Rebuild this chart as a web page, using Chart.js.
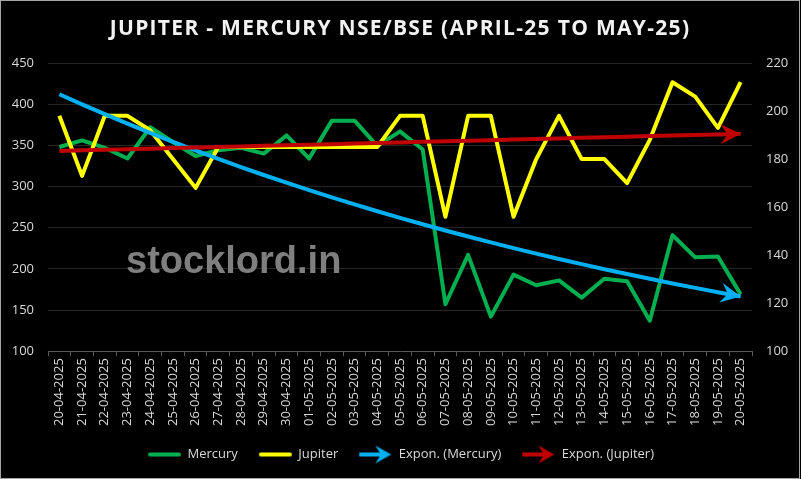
<!DOCTYPE html>
<html>
<head>
<meta charset="utf-8">
<script src="https://cdn.jsdelivr.net/npm/chart.js"></script>
<style>
  html, body { margin: 0; padding: 0; background: #ffffff; }
  #wrap { width: 801px; height: 481px; }
</style>
</head>
<body>
<div id="wrap"><canvas id="chart" width="801" height="481"></canvas></div>
<script>
const dates = ['20-04-2025', '21-04-2025', '22-04-2025', '23-04-2025', '24-04-2025', '25-04-2025',
    '26-04-2025', '27-04-2025', '28-04-2025', '29-04-2025', '30-04-2025', '01-05-2025', '02-05-2025',
    '03-05-2025', '04-05-2025', '05-05-2025', '06-05-2025', '07-05-2025', '08-05-2025', '09-05-2025',
    '10-05-2025', '11-05-2025', '12-05-2025', '13-05-2025', '14-05-2025', '15-05-2025', '16-05-2025',
    '17-05-2025', '18-05-2025', '19-05-2025', '20-05-2025'];

// Mercury on left axis, Jupiter on right axis
const mercury = [348, 356, 347, 334, 372, 354, 337, 344, 347, 340, 362, 334, 380, 380, 349, 367,
    345, 157, 217, 142, 193, 180, 186, 165, 188, 185, 137, 241, 214, 215, 169];
const jupiter = [198, 173, 198, 198, 192, 180, 168, 185, 185, 185, 185, 185, 185, 185, 185, 198,
    198, 156, 198, 198, 156, 180, 198, 180, 180, 170, 188, 212, 206, 193, 212];

const leftTicks = [100, 150, 200, 250, 300, 350, 400, 450];
const rightTicks = [100, 120, 140, 160, 180, 200, 220];

const TITLE = 'JUPITER - MERCURY NSE/BSE (APRIL-25 TO MAY-25)';
const GREEN = '#00b050', YELLOW = '#ffff00', BLUE = '#00b0f0', RED = '#c00000';
const TEXT = '#d9d9d9';

// exponential trendline, same as excel (least squares on ln y)
function expTrend(vals) {
    const n = vals.length;
    let sx = 0, sy = 0, sxx = 0, sxy = 0;
    vals.forEach((v, i) => {
        const x = i + 1, y = Math.log(v);
        sx += x; sy += y; sxx += x * x; sxy += x * y;
    });
    const b = (n * sxy - sx * sy) / (n * sxx - sx * sx);
    const a = (sy - b * sx) / n;
    return vals.map((v, i) => Math.exp(a + b * (i + 1)));
}

function lineIcon(color) {
    const c = document.createElement('canvas');
    c.width = 34; c.height = 10;
    const g = c.getContext('2d');
    g.strokeStyle = color; g.lineWidth = 4; g.lineCap = 'round';
    g.beginPath(); g.moveTo(3, 5); g.lineTo(32, 5); g.stroke();
    return c;
}

function drawHead(g, x, y, ang, color, len, half) {
    g.save();
    g.translate(x, y);
    g.rotate(ang);
    g.fillStyle = color;
    g.beginPath();
    g.moveTo(0, 0);
    g.lineTo(-len, -half);
    g.lineTo(-len * 0.65, 0);
    g.lineTo(-len, half);
    g.closePath();
    g.fill();
    g.restore();
}

function arrowIcon(color) {
    const c = document.createElement('canvas');
    c.width = 34; c.height = 20;
    const g = c.getContext('2d');
    g.strokeStyle = color; g.lineWidth = 4;
    g.beginPath(); g.moveTo(1, 10); g.lineTo(24, 10); g.stroke();
    drawHead(g, 33, 10, 0, color, 16, 9);
    return c;
}

const arrowHeads = {
    id: 'arrowHeads',
    afterDatasetsDraw(chart) {
        const g = chart.ctx;
        chart.data.datasets.forEach((ds, i) => {
            if (!ds.arrow) return;
            const pts = chart.getDatasetMeta(i).data;
            const p1 = pts[pts.length - 2], p2 = pts[pts.length - 1];
            const ang = Math.atan2(p2.y - p1.y, p2.x - p1.x);
            drawHead(g, p2.x, p2.y, ang, ds.borderColor, 20, 10);
        });
    }
};

const frame = {
    id: 'frame',
    beforeDraw(chart) {
        const g = chart.ctx;
        g.save();
        g.fillStyle = '#000000';
        g.fillRect(0, 0, 801, 479);
        g.strokeStyle = '#a6a6a6';
        g.lineWidth = 1;
        g.strokeRect(0.5, 0.5, 799, 478);
        // title, drawn by hand for the letter spacing
        g.font = 'bold 21px "Open Sans"';
        g.letterSpacing = '1.3px';
        g.fillStyle = '#f2f2f2';
        g.textAlign = 'center';
        g.textBaseline = 'middle';
        g.fillText(TITLE, 400, 29);
        g.restore();
    },
    beforeDatasetsDraw(chart) {
        // watermark
        const g = chart.ctx;
        g.save();
        g.font = 'bold 38px "Liberation Sans"';
        g.fillStyle = '#7f7f7f';
        g.textBaseline = 'middle';
        g.fillText('stocklord.in', 126, 263);
        g.restore();
    }
};

new Chart(document.getElementById('chart'), {
    type: 'line',
    data: {
        labels: dates,
        datasets: [
            { label: 'Mercury', data: mercury, yAxisID: 'y', borderColor: GREEN, borderWidth: 4, order: 4 },
            { label: 'Jupiter', data: jupiter, yAxisID: 'y1', borderColor: YELLOW, borderWidth: 4, order: 3 },
            { label: 'Expon. (Mercury)', data: expTrend(mercury), yAxisID: 'y', borderColor: BLUE, borderWidth: 4, order: 2, arrow: true },
            { label: 'Expon. (Jupiter)', data: expTrend(jupiter), yAxisID: 'y1', borderColor: RED, borderWidth: 4, order: 1, arrow: true }
        ]
    },
    options: {
        responsive: false,
        animation: false,
        layout: { padding: { left: 0, right: 0, top: 63, bottom: 10 } },
        elements: { point: { radius: 0 }, line: { tension: 0, borderJoinStyle: 'round' } },
        plugins: {
            legend: {
                position: 'bottom',
                labels: {
                    color: TEXT,
                    font: { family: '"Open Sans"', size: 13 },
                    usePointStyle: true,
                    pointStyleWidth: 34,
                    padding: 20,
                    generateLabels(chart) {
                        const icons = [lineIcon(GREEN), lineIcon(YELLOW), arrowIcon(BLUE), arrowIcon(RED)];
                        return chart.data.datasets.map((ds, i) => ({
                            text: ds.label,
                            fontColor: TEXT,
                            pointStyle: icons[i],
                            datasetIndex: i,
                            lineWidth: 0
                        }));
                    }
                }
            },
            tooltip: { enabled: false }
        },
        scales: {
            x: {
                offset: true,
                afterFit(axis) { axis.paddingLeft = 0; axis.paddingRight = 0; },
                grid: { display: true, offset: true, drawOnChartArea: false, color: '#595959', tickLength: 5 },
                border: { color: '#595959' },
                ticks: { color: TEXT, font: { family: '"Open Sans"', size: 13 }, minRotation: 90, maxRotation: 90, autoSkip: false, padding: 2 }
            },
            y: {
                position: 'left',
                min: 100, max: 450,
                afterBuildTicks(axis) { axis.ticks = leftTicks.map(v => ({ value: v })); },
                afterFit(axis) { axis.width = 48; },
                grid: { color: '#262626', drawTicks: false },
                border: { display: false },
                ticks: { color: TEXT, font: { family: '"Open Sans"', size: 13 }, padding: 14 }
            },
            y1: {
                position: 'right',
                min: 100, max: 220,
                afterBuildTicks(axis) { axis.ticks = rightTicks.map(v => ({ value: v })); },
                afterFit(axis) { axis.width = 49; },
                grid: { drawOnChartArea: false, drawTicks: false },
                border: { display: false },
                ticks: { color: TEXT, font: { family: '"Open Sans"', size: 13 }, padding: 14 }
            }
        }
    },
    plugins: [frame, arrowHeads]
});
</script>
</body>
</html>
